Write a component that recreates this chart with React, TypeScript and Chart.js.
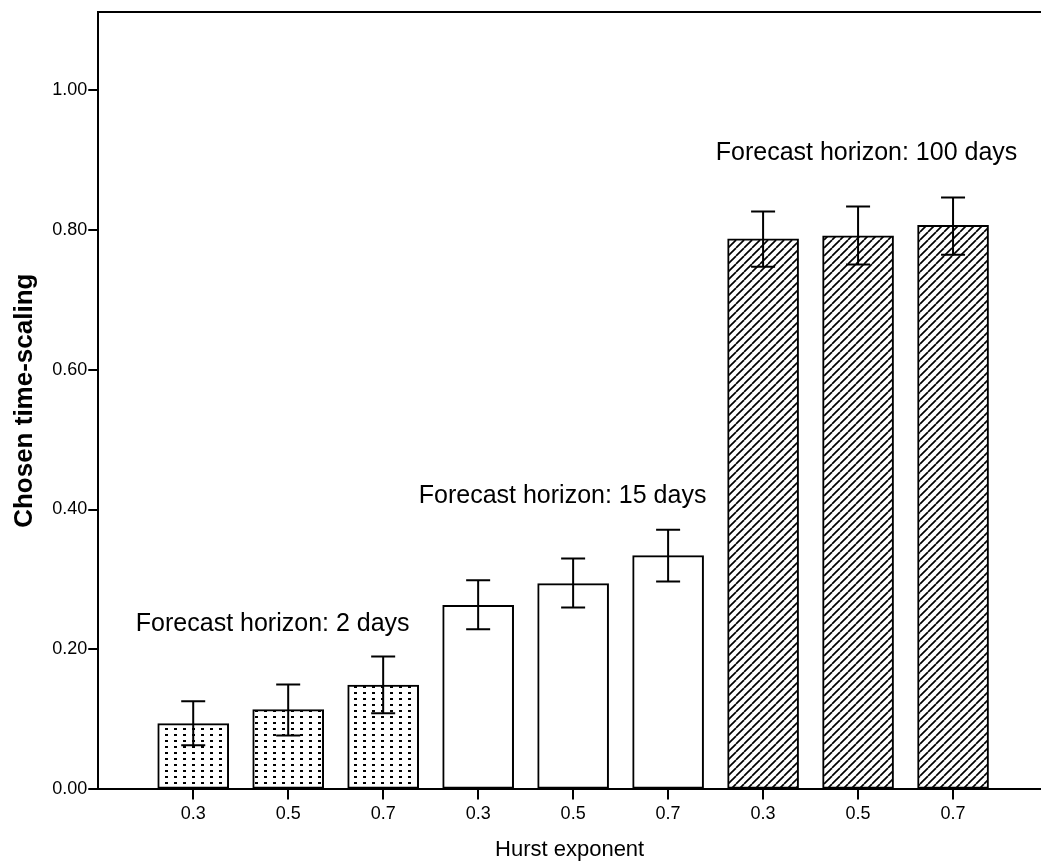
import React, { useEffect, useRef } from "react";
import { Chart, registerables } from "chart.js";

Chart.register(...registerables);

// ---- data ----
const hurstLabels = ["0.3", "0.5", "0.7", "0.3", "0.5", "0.7", "0.3", "0.5", "0.7"];
const horizonOfBar = ["2", "2", "2", "15", "15", "15", "100", "100", "100"];
const meanValues = [0.094, 0.114, 0.149, 0.263, 0.294, 0.334, 0.787, 0.791, 0.806];
const ciLow = [0.063, 0.077, 0.109, 0.229, 0.26, 0.297, 0.747, 0.75, 0.764];
const ciHigh = [0.126, 0.15, 0.19, 0.299, 0.33, 0.371, 0.826, 0.833, 0.846];
const yTickValues = [0, 0.2, 0.4, 0.6, 0.8, 1.0];
const groupTitles = ["Forecast horizon: 2 days", "Forecast horizon: 15 days", "Forecast horizon: 100 days"];
// label anchor positions in data units (x centre, y baseline)
const groupTitleX = [1.837, 4.889, 8.089];
const groupTitleY = [0.2257, 0.41, 0.899];

const FONT = "'Liberation Sans', Arial, sans-serif";

function makeDotPattern(): CanvasPattern | string {
  const c = document.createElement("canvas");
  c.width = 9;
  c.height = 6;
  const g = c.getContext("2d")!;
  g.fillStyle = "#ffffff";
  g.fillRect(0, 0, 9, 6);
  g.fillStyle = "#000000";
  g.fillRect(3, 2, 3, 2);
  return g.createPattern(c, "repeat") || "#fff";
}

function makeHatchPattern(): CanvasPattern | string {
  const s = 8;
  const c = document.createElement("canvas");
  c.width = s;
  c.height = s;
  const g = c.getContext("2d")!;
  g.fillStyle = "#ffffff";
  g.fillRect(0, 0, s, s);
  g.strokeStyle = "#000000";
  g.lineWidth = 1.7;
  for (const off of [-s, 0, s]) {
    g.beginPath();
    g.moveTo(off, s);
    g.lineTo(off + s, 0);
    g.stroke();
  }
  return g.createPattern(c, "repeat") || "#fff";
}

export default function App() {
  const ref = useRef<HTMLCanvasElement | null>(null);

  useEffect(() => {
    document.body.style.margin = "0";
    const canvas = ref.current;
    if (!canvas) return;
    const dots = makeDotPattern();
    const hatch = makeHatchPattern();
    const fills = horizonOfBar.map((h) => (h === "2" ? dots : h === "15" ? "#ffffff" : hatch));

    const overlay = {
      id: "overlay",
      afterDatasetsDraw(chart: any) {
        const { ctx, chartArea, scales } = chart;
        const xs = scales.x;
        const ys = scales.y;
        ctx.save();
        // top frame line
        ctx.strokeStyle = "#000";
        ctx.lineWidth = 2;
        ctx.beginPath();
        ctx.moveTo(chartArea.left, chartArea.top);
        ctx.lineTo(chartArea.right, chartArea.top);
        ctx.stroke();
        // error bars
        ctx.lineWidth = 2;
        meanValues.forEach((_, i) => {
          const px = xs.getPixelForValue(i + 1);
          const yl = ys.getPixelForValue(ciLow[i]);
          const yh = ys.getPixelForValue(ciHigh[i]);
          ctx.beginPath();
          ctx.moveTo(px, yl);
          ctx.lineTo(px, yh);
          ctx.moveTo(px - 12, yh);
          ctx.lineTo(px + 12, yh);
          ctx.moveTo(px - 12, yl);
          ctx.lineTo(px + 12, yl);
          ctx.stroke();
        });
        // group titles
        ctx.fillStyle = "#000";
        ctx.font = `25px ${FONT}`;
        ctx.textAlign = "center";
        ctx.textBaseline = "alphabetic";
        groupTitles.forEach((t, i) => {
          ctx.fillText(t, xs.getPixelForValue(groupTitleX[i]), ys.getPixelForValue(groupTitleY[i]));
        });
        ctx.restore();
      },
    };

    const chart = new Chart(canvas, {
      type: "bar",
      data: {
        datasets: [
          {
            data: meanValues.map((v, i) => ({ x: i + 1, y: v })),
            backgroundColor: fills as any,
            borderColor: "#000",
            borderWidth: 2,
            borderSkipped: false,
            barThickness: 71,
          },
        ],
      },
      options: {
        animation: false,
        responsive: false,
        maintainAspectRatio: false,
        layout: { padding: { top: 12, right: 0, bottom: 0, left: 9 } },
        plugins: { legend: { display: false }, tooltip: { enabled: false } },
        scales: {
          x: {
            type: "linear",
            min: 0,
            max: 9.926,
            offset: false,
            afterBuildTicks: (s: any) => {
              s.ticks = hurstLabels.map((_, i) => ({ value: i + 1 }));
            },
            ticks: {
              autoSkip: false,
              maxRotation: 0,
              color: "#000",
              font: { family: FONT, size: 18 },
              padding: 4,
              callback: (v: any) => hurstLabels[Number(v) - 1] ?? "",
            },
            grid: { drawOnChartArea: false, offset: false, tickLength: 10, color: "#000", lineWidth: 2 },
            border: { color: "#000", width: 2 },
            title: {
              display: true,
              text: "Hurst exponent",
              color: "#000",
              font: { family: FONT, size: 22, lineHeight: 1.0 },
              padding: { top: 10, bottom: 1 },
            },
          },
          y: {
            type: "linear",
            min: 0,
            max: 1.111,
            afterBuildTicks: (s: any) => {
              s.ticks = yTickValues.map((v) => ({ value: v }));
            },
            ticks: {
              color: "#000",
              font: { family: FONT, size: 18 },
              padding: 1,
              callback: (v: any) => Number(v).toFixed(2),
            },
            grid: { drawOnChartArea: false, tickLength: 10, color: "#000", lineWidth: 2 },
            border: { color: "#000", width: 2 },
            title: {
              display: true,
              text: "Chosen time-scaling",
              color: "#000",
              font: { family: FONT, size: 26, weight: "bold" },
              padding: { top: 0, bottom: 11 },
            },
          },
        },
      },
      plugins: [overlay],
    });
    return () => chart.destroy();
  }, []);

  return (
    <div style={{ width: 1041, height: 862, background: "#fff" }}>
      <canvas ref={ref} width={1041} height={862} style={{ display: "block" }} />
    </div>
  );
}
